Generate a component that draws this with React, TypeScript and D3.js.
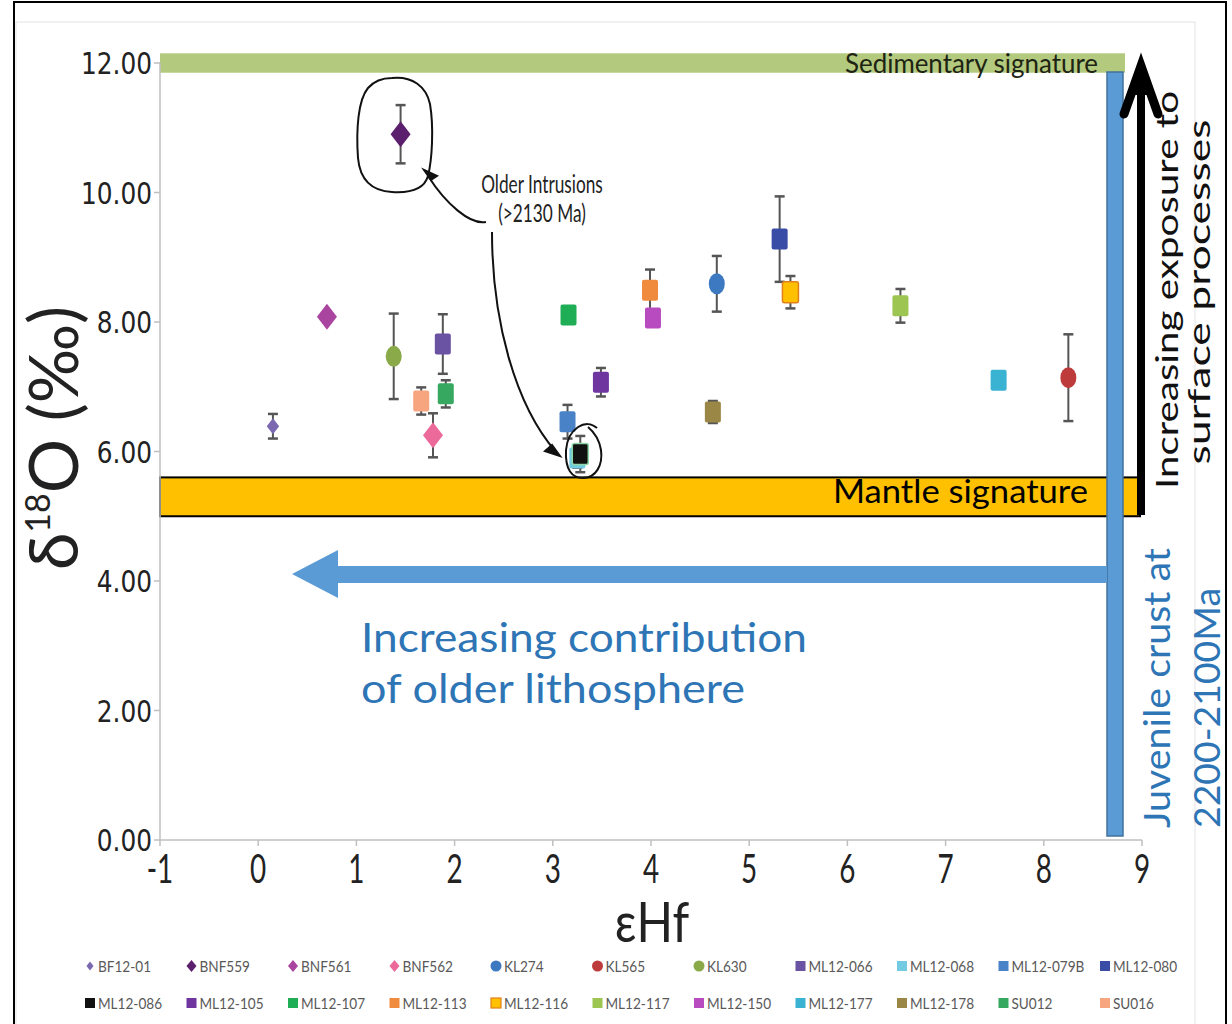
import * as d3 from 'd3'

// sample ids, marker shape, colour
const samples = [
  'BF12-01', 'BNF559', 'BNF561', 'BNF562', 'KL274', 'KL565', 'KL630', 'ML12-066', 'ML12-068', 'ML12-079B', 'ML12-080',
  'ML12-086', 'ML12-105', 'ML12-107', 'ML12-113', 'ML12-116', 'ML12-117', 'ML12-150', 'ML12-177', 'ML12-178', 'SU012', 'SU016',
]
const shapes = [
  'diamondS', 'diamond', 'diamond', 'diamond', 'circle', 'circle', 'circle', 'square', 'square', 'square', 'square',
  'square', 'square', 'square', 'square', 'square', 'square', 'square', 'square', 'square', 'square', 'square',
]
const colors = [
  '#7b68b0', '#5b1f6e', '#a9449f', '#ec6a9a', '#3d79c0', '#be3b3b', '#8aaa4a', '#6b53a3', '#72cbe0', '#4a82c8', '#3a4da6',
  '#111111', '#6f36a0', '#1fae55', '#f08a3c', '#ffc000', '#9cc552', '#b84bbf', '#3ab3d3', '#9a8745', '#36a860', '#f7a57e',
]
// eHf, d18O, 1 sigma
const eHf = [0.15, 1.45, 0.7, 1.78, 4.67, 8.25, 1.38, 1.88, 3.25, 3.15, 5.31, 3.28, 3.49, 3.16, 3.99, 5.42, 6.54, 4.02, 7.54, 4.63, 1.91, 1.66]
const d18O = [6.39, 10.9, 8.08, 6.25, 8.59, 7.14, 7.47, 7.66, 5.9, 6.46, 9.28, 5.96, 7.07, 8.11, 8.49, 8.46, 8.25, 8.06, 7.1, 6.61, 6.89, 6.78]
const err = [0.19, 0.45, 0, 0.34, 0.43, 0.67, 0.66, 0.46, 0.15, 0.26, 0.66, 0.28, 0.22, 0.08, 0.32, 0.25, 0.26, 0.1, 0, 0.17, 0.21, 0.21]

const xTicks = [-1, 0, 1, 2, 3, 4, 5, 6, 7, 8, 9]
const yTicks = [0, 2, 4, 6, 8, 10, 12]

const mantle = [5.0, 5.6]
const sediment = [11.85, 12.15]

const LATO = 'Lato, "Open Sans", sans-serif'

function Marker({ shape, color, cx, cy, s = 1 }: any) {
  if (shape === 'circle') return <ellipse cx={cx} cy={cy} rx={8 * s} ry={10.5 * s} fill={color} />
  if (shape === 'diamond' || shape === 'diamondS') {
    const k = shape === 'diamondS' ? 0.62 : 1
    const w = 10 * k * s
    const h = 13 * k * s
    return <path d={`M${cx},${cy - h}L${cx + w},${cy}L${cx},${cy + h}L${cx - w},${cy}Z`} fill={color} />
  }
  const stroke = color === '#ffc000' ? '#e0801a' : color === '#111111' ? '#8fd6a8' : 'none'
  return (
    <rect x={cx - 8 * s} y={cy - 10.5 * s} width={16 * s} height={21 * s} rx={2 * s}
      fill={color} stroke={stroke} strokeWidth={stroke === 'none' ? 0 : 1.5} />
  )
}

function LegendMarker({ shape, color, cx, cy }: any) {
  if (shape === 'circle') return <circle cx={cx} cy={cy} r={5.5} fill={color} />
  if (shape === 'diamond' || shape === 'diamondS') {
    const w = shape === 'diamondS' ? 3.5 : 5
    return <path d={`M${cx},${cy - w - 1}L${cx + w},${cy}L${cx},${cy + w + 1}L${cx - w},${cy}Z`} fill={color} />
  }
  return <rect x={cx - 5} y={cy - 5} width={10} height={10} fill={color}
    stroke={color === '#ffc000' ? '#e0801a' : 'none'} strokeWidth={1.2} />
}

export default function App() {
  const W = 1232
  const H = 1024
  const x = d3.scaleLinear().domain([-1, 9]).range([160, 1142])
  const y = d3.scaleLinear().domain([0, 12]).range([840, 63])

  const pts = samples.map((s, i) => ({ id: s, shape: shapes[i], color: colors[i], x: eHf[i], y: d18O[i], e: err[i] }))
  // black one drawn last so it sits on top
  const order = pts.filter(p => p.id !== 'ML12-086').concat(pts.filter(p => p.id === 'ML12-086'))

  const bx = 1107
  const bw = 16
  const ax = 1141

  return (
    <svg width={W} height={H} style={{ position: 'absolute', left: 0, top: 0, background: '#fff' }}>
      <rect x={0} y={0} width={W} height={H} fill="#fff" />
      <rect x={16} y={22} width={1179} height={1010} fill="none" stroke="#e3e3e3" strokeWidth={1} />

      {/* signature bands */}
      <rect x={x(-1)} y={y(sediment[1])} width={1125 - x(-1)} height={y(sediment[0]) - y(sediment[1])} fill="#b3c97d" />
      <rect x={x(-1)} y={y(mantle[1])} width={x(9) - 2 - x(-1)} height={y(mantle[0]) - y(mantle[1])}
        fill="#ffc000" stroke="#000" strokeWidth={2} />

      {/* axes */}
      <line x1={x(-1)} x2={x(-1)} y1={y(12)} y2={y(0)} stroke="#bfbfbf" strokeWidth={1.5} />
      <line x1={x(-1)} x2={x(9)} y1={y(0)} y2={y(0)} stroke="#bfbfbf" strokeWidth={1.5} />
      {yTicks.map(t => (
        <g key={'y' + t}>
          <line x1={x(-1) - 6} x2={x(-1)} y1={y(t)} y2={y(t)} stroke="#bfbfbf" strokeWidth={1.5} />
          <text transform={`translate(${x(-1) - 8},${y(t) + 11}) scale(0.8,1)`} textAnchor="end"
            fontFamily='"DejaVu Sans", sans-serif' fontSize={31} fill="#222">{t.toFixed(2)}</text>
        </g>
      ))}
      {xTicks.map(t => (
        <g key={'x' + t}>
          <line x1={x(t)} x2={x(t)} y1={y(0)} y2={y(0) + 6} stroke="#bfbfbf" strokeWidth={1.5} />
          <text transform={`translate(${x(t)},${883}) scale(0.68,1)`} textAnchor="middle"
            fontFamily={LATO} fontSize={41} fill="#222">{t}</text>
        </g>
      ))}
      <text transform="translate(652,942) scale(0.84,1)" textAnchor="middle" fontFamily={LATO} fontSize={57} fill="#222">εHf</text>
      <text transform="translate(78,438) rotate(-90)" textAnchor="middle" fontFamily={LATO} fontSize={68} fill="#222">
        δ<tspan fontSize={34} dy={-28}>18</tspan><tspan dy={28}>O (‰)</tspan>
      </text>

      {/* error bars */}
      {pts.filter(p => p.e > 0).map(p => (
        <g key={'e' + p.id} stroke="#555" strokeWidth={2}>
          <line x1={x(p.x)} x2={x(p.x)} y1={y(p.y + p.e)} y2={y(p.y - p.e)} />
          <line x1={x(p.x) - 5} x2={x(p.x) + 5} y1={y(p.y + p.e)} y2={y(p.y + p.e)} strokeWidth={2.5} />
          <line x1={x(p.x) - 5} x2={x(p.x) + 5} y1={y(p.y - p.e)} y2={y(p.y - p.e)} strokeWidth={2.5} />
        </g>
      ))}
      {order.map(p => <Marker key={p.id} shape={p.shape} color={p.color} cx={x(p.x)} cy={y(p.y)} />)}

      {/* older intrusions annotation */}
      <path d="M392,78 C412,76 426,86 430,104 C434,128 432,160 428,176 C424,190 408,193 392,192 C372,191 360,180 358,158 C356,130 358,100 368,88 C375,80 384,78 392,78 Z"
        fill="none" stroke="#111" strokeWidth={2} />
      <path d="M486,222 C470,225 446,204 428,176" fill="none" stroke="#111" strokeWidth={2} />
      <path d="M424,170 L437,176 L431,180 Z" fill="#111" stroke="#111" strokeWidth={2} />
      <path d="M492,232 C492,320 515,405 556,452" fill="none" stroke="#111" strokeWidth={2} />
      <path d="M560,456 L545,451 L552,445 Z" fill="#111" stroke="#111" strokeWidth={2} />
      <path d="M597,428 C586,418 568,428 566,450 C565,470 572,478 583,478 C596,478 603,465 601,450 C599,438 594,432 588,427"
        fill="none" stroke="#111" strokeWidth={2} />
      <text transform="translate(542,193) scale(0.69,1)" textAnchor="middle" fontFamily={LATO} fontSize={25} fill="#222">Older Intrusions</text>
      <text transform="translate(542,222) scale(0.69,1)" textAnchor="middle" fontFamily={LATO} fontSize={25} fill="#222">(&gt;2130 Ma)</text>

      {/* juvenile crust bar */}
      <rect x={bx} y={72} width={bw} height={764} fill="#5b9bd5" stroke="#41719c" strokeWidth={1.5} />

      {/* contribution arrow */}
      <path d="M292,574 L338,550 L338,566 L1107,566 L1107,583 L338,583 L338,598 Z" fill="#5b9bd5" />
      <text x={361} y={652} fontFamily={LATO} fontSize={41} fill="#2e75b6" textLength={446} lengthAdjust="spacingAndGlyphs">Increasing contribution</text>
      <text x={361} y={703} fontFamily={LATO} fontSize={41} fill="#2e75b6" textLength={384} lengthAdjust="spacingAndGlyphs">of older lithosphere</text>

      {/* exposure arrow */}
      <line x1={ax} x2={ax} y1={515} y2={75} stroke="#000" strokeWidth={8} />
      <path d={`M${ax - 17},114 L${ax},66 L${ax + 17},114`} fill="none" stroke="#000" strokeWidth={9} strokeLinecap="round" />
      <path d={`M${ax - 10},95 L${ax},64 L${ax + 10},95 Z`} fill="#000" />

      <text transform="translate(1178,290) rotate(-90)" textAnchor="middle" fontFamily={LATO} fontSize={30} fill="#111"
        textLength={398} lengthAdjust="spacingAndGlyphs">Increasing exposure to</text>
      <text transform="translate(1210,292) rotate(-90)" textAnchor="middle" fontFamily={LATO} fontSize={30} fill="#111"
        textLength={345} lengthAdjust="spacingAndGlyphs">surface processes</text>
      <text transform="translate(1170,828) rotate(-90)" fontFamily={LATO} fontSize={36} fill="#2e75b6"
        textLength={280} lengthAdjust="spacingAndGlyphs">Juvenile crust at</text>
      <text transform="translate(1220,828) rotate(-90)" fontFamily={LATO} fontSize={36} fill="#2e75b6"
        textLength={240} lengthAdjust="spacingAndGlyphs">2200-2100Ma</text>

      <text x={845} y={73} fontFamily={LATO} fontSize={27} fill="#1e2414" textLength={253} lengthAdjust="spacingAndGlyphs">Sedimentary signature</text>
      <text x={833} y={503} fontFamily={LATO} fontSize={33} fill="#000" textLength={255} lengthAdjust="spacingAndGlyphs">Mantle signature</text>

      {/* legend */}
      {pts.map((p, i) => {
        const col = i % 11
        const row = Math.floor(i / 11)
        const cx = 90 + col * 101.5
        const cy = 966 + row * 37
        return (
          <g key={'l' + p.id}>
            <LegendMarker shape={p.shape} color={p.color} cx={cx} cy={cy} />
            <text transform={`translate(${cx + 8},${cy + 6}) scale(0.85,1)`} fontFamily={LATO} fontSize={16} fill="#595959">{p.id}</text>
          </g>
        )
      })}

      <rect x={14} y={2} width={1212} height={1030} fill="none" stroke="#000" strokeWidth={2} />
    </svg>
  )
}
